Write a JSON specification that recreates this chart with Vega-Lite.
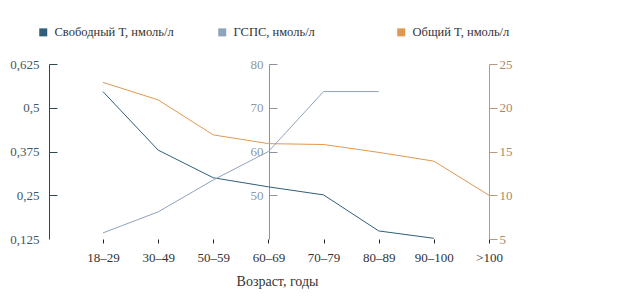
{
  "$schema": "https://vega.github.io/schema/vega-lite/v6.json",
  "autosize": {"type": "none"},
  "width": 440,
  "height": 175,
  "padding": {"left": 49, "top": 64, "right": 147, "bottom": 66},
  "background": "white",
  "config": {
    "view": {"stroke": null},
    "font": "Liberation Serif",
    "axis": {"labelFont": "Liberation Serif", "titleFont": "Liberation Serif", "labelFontSize": 13, "titleFontSize": 14, "grid": false, "titleFontWeight": "normal"},
    "legend": {"labelFont": "Liberation Serif", "labelFontSize": 12.5}
  },
  "data": {
    "values": [
      {"series": "Свободный T, нмоль/л", "age": "18–29", "value": 0.546},
      {"series": "Свободный T, нмоль/л", "age": "30–49", "value": 0.379},
      {"series": "Свободный T, нмоль/л", "age": "50–59", "value": 0.3},
      {"series": "Свободный T, нмоль/л", "age": "60–69", "value": 0.274},
      {"series": "Свободный T, нмоль/л", "age": "70–79", "value": 0.251},
      {"series": "Свободный T, нмоль/л", "age": "80–89", "value": 0.148},
      {"series": "Свободный T, нмоль/л", "age": "90–100", "value": 0.127},
      {"series": "ГСПС, нмоль/л", "age": "18–29", "value": 41.4},
      {"series": "ГСПС, нмоль/л", "age": "30–49", "value": 46.2},
      {"series": "ГСПС, нмоль/л", "age": "50–59", "value": 53.5},
      {"series": "ГСПС, нмоль/л", "age": "60–69", "value": 60},
      {"series": "ГСПС, нмоль/л", "age": "70–79", "value": 73.7},
      {"series": "ГСПС, нмоль/л", "age": "80–89", "value": 73.7},
      {"series": "Общий T, нмоль/л", "age": "18–29", "value": 22.9},
      {"series": "Общий T, нмоль/л", "age": "30–49", "value": 20.9},
      {"series": "Общий T, нмоль/л", "age": "50–59", "value": 16.9},
      {"series": "Общий T, нмоль/л", "age": "60–69", "value": 15.9},
      {"series": "Общий T, нмоль/л", "age": "70–79", "value": 15.8},
      {"series": "Общий T, нмоль/л", "age": "80–89", "value": 14.9},
      {"series": "Общий T, нмоль/л", "age": "90–100", "value": 13.9},
      {"series": "Общий T, нмоль/л", "age": ">100", "value": 10}
    ]
  },
  "encoding": {
    "x": {
      "field": "age", "type": "ordinal",
      "scale": {"type": "point", "domain": ["18–29", "30–49", "50–59", "60–69", "70–79", "80–89", "90–100", ">100"], "range": [54, 440], "padding": 0},
      "axis": {"title": "Возраст, годы", "labelAngle": 0, "domain": false, "tickColor": "#222222", "tickSize": 4, "labelColor": "#333333", "titleColor": "#333333", "labelPadding": 8, "titlePadding": 10, "titleX": 228, "titleAlign": "center"}
    },
    "color": {
      "field": "series", "type": "nominal",
      "scale": {"domain": ["Свободный T, нмоль/л", "ГСПС, нмоль/л", "Общий T, нмоль/л"], "range": ["#2f5f7a", "#8fa3bb", "#e0984e"]},
      "legend": {"title": null, "orient": "none", "legendX": -12, "legendY": -38, "direction": "horizontal", "symbolType": "square", "symbolSize": 64, "labelOffset": 5, "columnPadding": 42, "gridAlign": "all", "labelColor": "#333333",
        "encode": {"symbols": {"update": {"fill": {"scale": "color", "field": "value"}, "strokeWidth": {"value": 0}, "fillOpacity": {"value": 1}}}}}
    }
  },
  "layer": [
    {
      "layer": [
        {
          "transform": [{"filter": "datum.series === 'Свободный T, нмоль/л'"}],
          "mark": {"type": "line", "strokeWidth": 1},
          "encoding": {
            "y": {"field": "value", "type": "quantitative", "scale": {"domain": [0.125, 0.625], "nice": false, "zero": false},
              "axis": {"orient": "left", "title": null, "values": [0.125, 0.25, 0.375, 0.5, 0.625], "ticks": false, "labelPadding": 10, "domainColor": "#2c4a52", "labelColor": "#3d5866", "labelExpr": "replace(format(datum.value, '~g'), '.', ',')"}}
          }
        },
        {
          "mark": {"type": "rule", "color": "#222222", "strokeWidth": 1},
          "encoding": {"y": {"datum": 0.125, "type": "quantitative",
            "axis": {"orient": "right", "offset": -440, "title": null, "values": [0.25, 0.375, 0.5, 0.625], "labels": false, "domain": false, "tickSize": 8, "tickColor": "#2c4a52"}}}
        }
      ],
      "resolve": {"axis": {"y": "independent"}}
    },
    {
      "layer": [
        {
          "transform": [{"filter": "datum.series === 'ГСПС, нмоль/л'"}],
          "mark": {"type": "line", "strokeWidth": 1},
          "encoding": {
            "y": {"field": "value", "type": "quantitative", "scale": {"domain": [40, 80], "nice": false, "zero": false},
              "axis": {"orient": "left", "offset": -220, "title": null, "values": [50, 60, 70, 80], "ticks": false, "labelPadding": 6, "domainColor": "#8593a2", "labelColor": "#8a98a6"}}
          }
        },
        {
          "mark": {"type": "rule", "color": "#222222", "strokeWidth": 1, "opacity": 0},
          "encoding": {"y": {"datum": 40, "type": "quantitative",
            "axis": {"orient": "right", "offset": -220, "title": null, "values": [50, 60, 70, 80], "labels": false, "domain": false, "tickSize": 8, "tickColor": "#8593a2"}}}
        }
      ],
      "resolve": {"axis": {"y": "independent"}}
    },
    {
      "transform": [{"filter": "datum.series === 'Общий T, нмоль/л'"}],
      "mark": {"type": "line", "strokeWidth": 1},
      "encoding": {
        "y": {"field": "value", "type": "quantitative", "scale": {"domain": [5, 25], "nice": false, "zero": false},
          "axis": {"orient": "right", "title": null, "values": [5, 10, 15, 20, 25], "tickSize": 8, "labelPadding": 2, "domainColor": "#b89c7a", "tickColor": "#b89c7a", "labelColor": "#a88a6a"}}
      }
    }
  ],
  "resolve": {"scale": {"y": "independent"}}
}
